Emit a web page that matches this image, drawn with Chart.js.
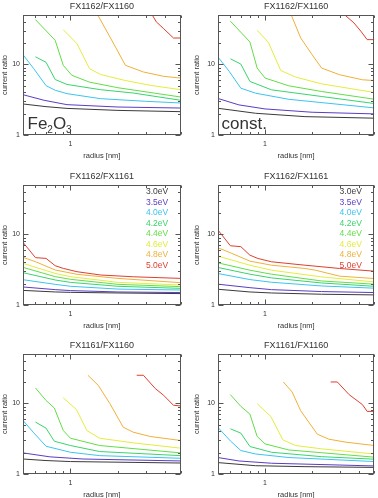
<!DOCTYPE html>
<html>
<head>
<meta charset="utf-8">
<script src="https://cdn.jsdelivr.net/npm/chart.js@4.4.1/dist/chart.umd.min.js"></script>
<style>
  html, body { margin: 0; padding: 0; background: #fff; overflow: hidden; }
  #wrap { position: relative; width: 378px; height: 498px; }
  canvas { position: absolute; }
</style>
</head>
<body>
<div id="wrap">
  <canvas id="p1" width="189" height="166" style="left:0px;top:0px"></canvas>
  <canvas id="p2" width="189" height="166" style="left:189px;top:0px"></canvas>
  <canvas id="p3" width="189" height="166" style="left:0px;top:170px"></canvas>
  <canvas id="p4" width="189" height="166" style="left:189px;top:170px"></canvas>
  <canvas id="p5" width="189" height="166" style="left:0px;top:339px"></canvas>
  <canvas id="p6" width="189" height="166" style="left:189px;top:339px"></canvas>
</div>
<script>
// axis ticks
const radiusTicks = [0.5, 0.6, 0.7, 0.8, 0.9, 1, 2, 3, 4, 5];
const ratioTicks = [1, 2, 3, 4, 5, 6, 7, 8, 9, 10, 20, 30, 40, 50];
const radiusLabels = [1];
const ratioLabels = [1, 10];

const energies = ['3.0eV', '3.5eV', '4.0eV', '4.2eV', '4.4eV', '4.6eV', '4.8eV', '5.0eV'];
const titles = ['FX1162/FX1160', 'FX1162/FX1160', 'FX1162/FX1161', 'FX1162/FX1161', 'FX1161/FX1160', 'FX1161/FX1160'];

// [radius nm, current ratio] per energy
const ratio62_60_fe = [
  [[0.5, 2.75], [0.7, 2.52], [0.95, 2.38], [2.0, 2.23], [5, 2.14]],
  [[0.5, 3.72], [0.68, 3.1], [0.95, 2.69], [2.0, 2.49], [5, 2.41]],
  [[0.5, 13.7], [0.585, 8.7], [0.7, 5.0], [0.8, 4.3], [0.95, 3.85], [1.55, 3.27], [3.0, 3.0], [5, 2.84]],
  [[0.6, 12.8], [0.7, 10.7], [0.8, 6.1], [0.95, 5.2], [1.55, 4.38], [2.5, 3.93], [5, 3.1]],
  [[0.6, 42.9], [0.8, 21.9], [0.9, 9.7], [1.02, 7.0], [1.32, 5.6], [2.0, 4.67], [5, 3.45]],
  [[0.9, 31], [1.1, 19.6], [1.32, 8.7], [1.55, 7.2], [2.2, 5.94], [3.2, 5.05], [5, 4.38]],
  [[1.3, 85], [1.49, 50], [1.93, 17.6], [2.23, 9.7], [2.9, 7.8], [3.9, 6.77], [5, 6.4]],
  [[3.0, 62], [3.3, 50], [3.5, 40], [3.9, 32], [4.5, 23.6], [5, 23.6]]
];
const ratio62_60_const = [
  [[0.5, 2.39], [0.87, 2.03], [1.8, 1.82], [5, 1.73]],
  [[0.5, 3.29], [0.68, 2.67], [1.0, 2.34], [2.0, 2.1], [5, 1.99]],
  [[0.5, 12.7], [0.59, 7.95], [0.7, 4.6], [0.87, 3.91], [1.42, 3.2], [5, 2.42]],
  [[0.6, 12.0], [0.7, 10.1], [0.8, 5.73], [1.1, 4.36], [2.3, 3.51], [5, 2.79]],
  [[0.6, 40.9], [0.8, 20.8], [0.89, 8.87], [1.0, 6.4], [1.42, 4.97], [2.3, 4.13], [5, 3.21]],
  [[0.89, 30.4], [1.05, 20.5], [1.26, 8.2], [1.57, 6.6], [2.3, 5.3], [5, 4.0]],
  [[1.35, 80], [1.69, 23.7], [2.0, 13.7], [2.3, 8.87], [3.0, 7.13], [4.2, 6.05], [5, 5.9]],
  [[3.0, 60], [3.24, 50], [3.7, 38.7], [4.1, 29.5], [4.5, 22.4], [5, 22.4]]
];
const ratio62_61_fe = [
  [[0.5, 1.61], [0.8, 1.53], [1, 1.51], [2, 1.48], [5, 1.45]],
  [[0.5, 1.8], [0.8, 1.65], [1, 1.6], [2, 1.53], [5, 1.5]],
  [[0.5, 2.28], [0.8, 1.96], [1, 1.84], [2, 1.68], [5, 1.63]],
  [[0.5, 2.87], [0.8, 2.26], [1, 2.09], [2, 1.84], [5, 1.72]],
  [[0.5, 3.41], [0.8, 2.52], [1, 2.31], [2, 1.96], [5, 1.82]],
  [[0.5, 3.89], [0.8, 2.8], [1, 2.52], [2, 2.09], [5, 1.92]],
  [[0.5, 4.73], [0.6, 4.1], [0.8, 3.13], [1.1, 2.72], [2, 2.38], [5, 2.07]],
  [[0.5, 7.7], [0.6, 4.68], [0.7, 4.57], [0.8, 3.6], [0.9, 3.3], [1.1, 2.96], [1.55, 2.66], [2.5, 2.51], [5, 2.38]]
];
const ratio62_61_const = [
  [[0.5, 1.67], [0.8, 1.53], [1.1, 1.48], [2.3, 1.42], [5, 1.39]],
  [[0.5, 1.97], [0.8, 1.76], [1.1, 1.65], [2.3, 1.55], [5, 1.5]],
  [[0.5, 2.79], [0.8, 2.29], [1.1, 2.1], [2.3, 1.86], [5, 1.73]],
  [[0.5, 3.4], [0.8, 2.73], [1.1, 2.42], [2.3, 2.05], [5, 1.84]],
  [[0.5, 3.95], [0.8, 3.11], [1.1, 2.73], [2.3, 2.19], [5, 1.97]],
  [[0.5, 4.92], [0.8, 3.66], [1.1, 3.11], [2.3, 2.5], [5, 2.12]],
  [[0.5, 6.46], [0.6, 5.49], [0.8, 4.18], [1.1, 3.66], [1.8, 3.29], [2.1, 3.11], [3.0, 2.56], [5, 2.37]],
  [[0.5, 11.5], [0.6, 6.9], [0.7, 6.7], [0.8, 5.08], [0.9, 4.56], [1.1, 4.09], [1.8, 3.66], [3.0, 3.29], [5, 3.01]]
];
const ratio61_60_fe = [
  [[0.5, 1.63], [0.7, 1.55], [1.0, 1.5], [5, 1.43]],
  [[0.5, 1.99], [0.74, 1.75], [1.2, 1.63], [5, 1.53]],
  [[0.5, 5.73], [0.58, 3.91], [0.7, 2.47], [1.0, 2.03], [1.53, 1.82], [5, 1.67]],
  [[0.6, 5.43], [0.7, 4.46], [0.79, 2.91], [1.0, 2.53], [1.53, 2.08], [5, 1.82]],
  [[0.6, 16.5], [0.7, 11.0], [0.79, 8.6], [0.9, 4.13], [1.0, 3.21], [1.53, 2.53], [5, 1.99]],
  [[0.9, 12.0], [1.09, 8.2], [1.27, 4.13], [1.53, 3.21], [2.5, 2.76], [5, 2.32]],
  [[1.29, 25], [1.5, 18], [1.78, 9.9], [2.16, 4.6], [2.5, 3.91], [3.2, 3.4], [5, 2.98]],
  [[2.63, 25], [2.9, 25], [3.45, 16.2], [3.9, 13], [4.1, 11.6], [4.5, 9.4], [5, 9.2]]
];
const ratio61_60_const = [
  [[0.5, 1.45], [0.87, 1.31], [1.8, 1.27], [5, 1.24]],
  [[0.5, 1.71], [0.68, 1.53], [1.1, 1.42], [5, 1.3]],
  [[0.5, 4.56], [0.6, 2.94], [0.7, 2.15], [0.87, 1.92], [1.42, 1.71], [5, 1.5]],
  [[0.6, 4.36], [0.7, 3.79], [0.8, 2.45], [1.1, 2.03], [2.3, 1.76], [5, 1.62]],
  [[0.6, 13.3], [0.7, 9.06], [0.8, 7.05], [0.89, 3.4], [1.0, 2.67], [1.42, 2.19], [5, 1.73]],
  [[0.89, 9.9], [1.09, 6.5], [1.3, 3.04], [1.57, 2.53], [2.3, 2.27], [5, 1.92]],
  [[1.31, 20.1], [1.49, 14.5], [1.69, 7.87], [2.16, 3.66], [2.56, 3.11], [3.3, 2.82], [5, 2.53]],
  [[2.63, 20.1], [2.9, 20.1], [3.45, 13.3], [4.0, 10.4], [4.2, 9.6], [4.5, 7.7], [5, 7.7]]
];

const lineColors = ['#3a3a3a', '#5b3cc4', '#3cc4f0', '#38d46c', '#62de46', '#e4ec3e', '#f0b03a', '#de3f2e'];
const textColor = '#333';
const fontFam = '"Liberation Sans", Arial, Helvetica, sans-serif';

// draws the box with inward ticks on all four sides
const framePlugin = {
  id: 'frame',
  afterDatasetsDraw(chart) {
    const { ctx, chartArea: a, scales } = chart;
    const L = Math.round(a.left) + 0.5, R = Math.round(a.right) - 0.5;
    const T = Math.round(a.top) + 0.5, B = Math.round(a.bottom) - 0.5;
    ctx.save();
    ctx.strokeStyle = '#555';
    ctx.lineWidth = 1;
    ctx.strokeRect(L, T, R - L, B - T);
    ctx.beginPath();
    ratioTicks.forEach(v => {
      const y = Math.round(scales.y.getPixelForValue(v)) + 0.5;
      const len = (v === 1 || v === 10) ? 5 : 2.5;
      ctx.moveTo(L, y); ctx.lineTo(L + len, y);
      ctx.moveTo(R, y); ctx.lineTo(R - len, y);
    });
    radiusTicks.forEach(v => {
      const x = Math.round(scales.x.getPixelForValue(v)) + 0.5;
      const len = v === 1 ? 5 : 2.5;
      ctx.moveTo(x, B); ctx.lineTo(x, B - len);
      ctx.moveTo(x, T); ctx.lineTo(x, T + len);
    });
    ctx.stroke();
    ctx.restore();
  }
};

// panel title, energy legend and the material label
const textPlugin = {
  id: 'panelText',
  afterDraw(chart, args, opts) {
    const { ctx, chartArea: a } = chart;
    ctx.save();
    ctx.fillStyle = textColor;
    ctx.font = '9px ' + fontFam;
    ctx.textAlign = 'center';
    ctx.textBaseline = 'middle';
    ctx.fillText(opts.title, (a.left + a.right) / 2, a.top - 8);

    if (opts.legend) {
      ctx.font = '8.5px ' + fontFam;
      ctx.textAlign = 'right';
      chart.data.datasets.forEach((ds, i) => {
        ctx.fillStyle = ds.borderColor;
        ctx.fillText(ds.label, a.right - 12.5, a.top + 7 + i * 10.5);
      });
    }

    ctx.fillStyle = textColor;
    ctx.textAlign = 'left';
    ctx.textBaseline = 'alphabetic';
    let x = a.left + 4.5;
    const base = a.bottom - 6;
    if (opts.note === 'Fe2O3') {
      [['Fe', 17, 0], ['2', 10, 3.5], ['O', 17, 0], ['3', 10, 3.5]].forEach(([s, size, dy]) => {
        ctx.font = size + 'px ' + fontFam;
        ctx.fillText(s, x, base + dy);
        x += ctx.measureText(s).width;
      });
    } else if (opts.note) {
      ctx.font = '17px ' + fontFam;
      ctx.fillText(opts.note, x - 1, base);
    }
    ctx.restore();
  }
};

function makePanel(id, series, title, col, legend, note) {
  const plotLeft = col === 0 ? 23 : 29;
  const padRight = col === 0 ? 8.3 : 3.7;
  const titlePad = col === 0 ? 0 : 3;
  return new Chart(document.getElementById(id), {
    type: 'line',
    data: {
      datasets: series.map((pts, i) => ({
        label: energies[i],
        data: pts.map(p => ({ x: p[0], y: p[1] })),
        borderColor: lineColors[i],
        borderWidth: 1,
        pointRadius: 0,
        tension: 0,
        fill: false,
        clip: 0
      }))
    },
    options: {
      responsive: false,
      animation: false,
      devicePixelRatio: 1,
      layout: { padding: { top: 15, right: padRight, bottom: 0, left: 0 } },
      plugins: {
        legend: { display: false },
        tooltip: { enabled: false },
        panelText: { title: title, legend: legend, note: note }
      },
      scales: {
        x: {
          type: 'logarithmic',
          min: 0.5,
          max: 5,
          grid: { display: false, drawTicks: false },
          border: { display: false },
          afterBuildTicks: s => { s.ticks = radiusLabels.map(v => ({ value: v })); },
          afterFit: s => { s.height = 31; },
          ticks: {
            color: textColor,
            font: { size: 7, family: fontFam },
            padding: 5,
            maxRotation: 0,
            autoSkip: false,
            callback: v => String(v)
          },
          title: {
            display: true,
            text: 'radius [nm]',
            color: textColor,
            font: { size: 7.5, family: fontFam },
            padding: { top: 0, bottom: 5.5 }
          }
        },
        y: {
          type: 'logarithmic',
          min: 1,
          max: 50,
          grid: { display: false, drawTicks: false },
          border: { display: false },
          afterBuildTicks: s => { s.ticks = ratioLabels.map(v => ({ value: v })); },
          afterFit: s => { s.width = plotLeft; },
          ticks: {
            color: textColor,
            font: { size: 7, family: fontFam },
            padding: 3,
            autoSkip: false,
            callback: v => String(v)
          },
          title: {
            display: true,
            text: 'current ratio',
            color: textColor,
            font: { size: 7.5, family: fontFam },
            padding: { top: titlePad, bottom: 0 }
          }
        }
      }
    },
    plugins: [framePlugin, textPlugin]
  });
}

makePanel('p1', ratio62_60_fe, titles[0], 0, false, 'Fe2O3');
makePanel('p2', ratio62_60_const, titles[1], 1, false, 'const.');
makePanel('p3', ratio62_61_fe, titles[2], 0, true, null);
makePanel('p4', ratio62_61_const, titles[3], 1, true, null);
makePanel('p5', ratio61_60_fe, titles[4], 0, false, null);
makePanel('p6', ratio61_60_const, titles[5], 1, false, null);
</script>
</body>
</html>
